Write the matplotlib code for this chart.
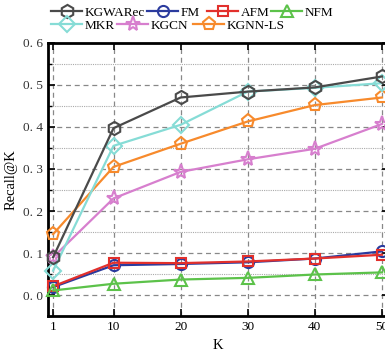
import matplotlib
matplotlib.use("Agg")
import matplotlib.pyplot as plt
from matplotlib.ticker import MultipleLocator, FixedLocator

plt.rcParams['font.family'] = ['Liberation Serif', 'DejaVu Serif']

K = [1, 10, 20, 30, 40, 50]
kgwarec = [0.090, 0.397, 0.470, 0.484, 0.494, 0.520]
fm = [0.019, 0.071, 0.074, 0.078, 0.087, 0.104]
afm = [0.021, 0.077, 0.076, 0.080, 0.087, 0.096]
nfm = [0.011, 0.027, 0.037, 0.041, 0.049, 0.054]
mkr = [0.058, 0.355, 0.405, 0.484, 0.493, 0.504]
kgcn = [0.090, 0.230, 0.293, 0.323, 0.348, 0.407]
kgnnls = [0.145, 0.305, 0.360, 0.413, 0.452, 0.470]

yticks = [0.0, 0.1, 0.2, 0.3, 0.4, 0.5, 0.6]
ytick_labels = ["0. 0", "0. 1", "0. 2", "0. 3", "0. 4", "0. 5", "0. 6"]

fig = plt.figure(figsize=(3.85, 3.54), dpi=100)
ax = fig.add_axes([0.124, 0.107, 1.0096 - 0.124, 0.879 - 0.107])

series = [
    ("KGWARec", kgwarec, "#4a4a4a", "h", 9.5),
    ("MKR", mkr, "#86dcd6", "D", 8),
    ("FM", fm, "#2b3b9e", "o", 8),
    ("KGCN", kgcn, "#d77fce", "*", 11),
    ("AFM", afm, "#e2302c", "s", 7.5),
    ("KGNN-LS", kgnnls, "#f78a2c", "p", 9.5),
    ("NFM", nfm, "#5cc24a", "^", 9),
]
draw_order = ["FM", "AFM", "NFM", "KGCN", "KGNN-LS", "MKR", "KGWARec"]
handles = {}
for name, vals, col, mk, ms in series:
    (h,) = ax.plot(K, vals, color=col, marker=mk, markersize=ms, markerfacecolor="none",
                   markeredgecolor=col, markeredgewidth=1.5, linewidth=1.6,
                   zorder=3 + draw_order.index(name), clip_on=False)
    handles[name] = h

# legend entries placed individually (reference legend is not column-aligned)
legend_pos = {
    "KGWARec": (51, 13), "FM": (147, 13), "AFM": (207, 13), "NFM": (271, 13),
    "MKR": (51, 26), "KGCN": (117, 26), "KGNN-LS": (193, 26),
}
for name, (px, py) in legend_pos.items():
    fig.legend([handles[name]], [name], frameon=False, fontsize=9.5, handlelength=2.35,
               handletextpad=0.2, borderpad=0, borderaxespad=0, loc="center left",
               bbox_to_anchor=(px / 385, 1 - py / 354))

ax.set_xlim(0.2, 51)
ax.set_ylim(-0.05, 0.6)
ax.xaxis.set_major_locator(FixedLocator(K))
ax.set_xticklabels([str(k) for k in K])
ax.yaxis.set_major_locator(FixedLocator(yticks))
ax.set_yticklabels(ytick_labels)
ax.yaxis.set_minor_locator(MultipleLocator(0.05))

ax.grid(True, which="major", axis="both", color="#888888", linestyle=(0, (4, 3)), linewidth=0.9)
ax.grid(True, which="minor", axis="y", color="#aaaaaa", linestyle=(0, (1, 1)), linewidth=0.8)
ax.set_axisbelow(True)

ax.tick_params(which="both", direction="in", top=True, right=True, labelsize=9.5, colors="black")
ax.tick_params(which="major", length=5, width=1.2)
ax.tick_params(which="minor", length=3, width=1.0)
ax.tick_params(axis="y", labelcolor="#333333")
for s in ax.spines.values():
    s.set_linewidth(2.0)
    s.set_color("black")

ax.set_xlabel("K", fontsize=10.5, labelpad=4)
ax.set_ylabel("Recall@K", fontsize=10.5, labelpad=4)

fig.savefig("out.png", dpi=100)
